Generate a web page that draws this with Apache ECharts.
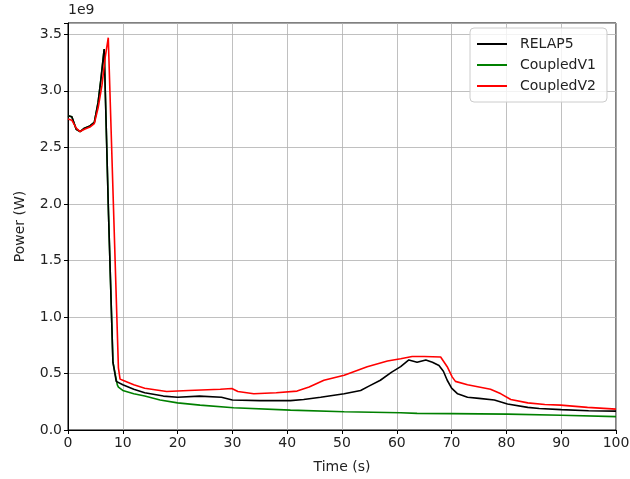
<!DOCTYPE html>
<html>
<head>
<meta charset="utf-8">
<script src="https://cdn.jsdelivr.net/npm/echarts@6/dist/echarts.min.js"></script>
<style>
  html, body { margin: 0; padding: 0; background: #fff; }
  #chart { width: 630px; height: 479px; }
</style>
</head>
<body>
<div id="chart"></div>
<script>
// power values are in units of 1e9 W
var relapTime = [0, 0.7, 1.5, 2.2, 3, 4, 4.8, 5.5, 6, 6.6, 7.4, 8.2, 8.8, 10, 12, 14, 17.4, 20, 24, 28, 30, 35, 40.6, 43, 46.1, 50.4, 53.4, 55, 57, 59, 60.7, 62.2, 63.7, 65.3, 66.5, 67.7, 68.5, 69.2, 70, 71.1, 72.9, 75, 77.8, 80.2, 83.9, 86, 90, 95, 100];
var relapPower = [2.78, 2.77, 2.66, 2.64, 2.67, 2.69, 2.72, 2.9, 3.1, 3.37, 1.9, 0.6, 0.43, 0.40, 0.36, 0.33, 0.30, 0.29, 0.30, 0.29, 0.265, 0.26, 0.26, 0.27, 0.29, 0.32, 0.35, 0.39, 0.44, 0.51, 0.56, 0.62, 0.60, 0.62, 0.60, 0.57, 0.52, 0.44, 0.37, 0.32, 0.29, 0.28, 0.265, 0.23, 0.20, 0.19, 0.18, 0.17, 0.167];

var v1Time = [0, 0.7, 1.5, 2.2, 3, 4, 4.8, 5.5, 6, 6.6, 7.4, 8.2, 9.0, 9.2, 10, 12, 14, 16.8, 20, 24.1, 30.2, 40.6, 50.4, 60.7, 63.7, 70, 80.2, 90, 100];
var v1Power = [2.78, 2.77, 2.66, 2.64, 2.67, 2.69, 2.72, 2.9, 3.1, 3.37, 1.9, 0.6, 0.40, 0.38, 0.35, 0.32, 0.30, 0.265, 0.24, 0.22, 0.197, 0.176, 0.161, 0.153, 0.147, 0.145, 0.14, 0.13, 0.118];

var v2Time = [0, 0.7, 1.5, 2.2, 3, 4, 4.8, 5.5, 6.2, 6.8, 7.35, 9.2, 9.5, 10, 12, 14, 18, 22, 27.8, 29.9, 31, 33.9, 38, 41.8, 44, 46.7, 50.4, 54.6, 58.3, 60.7, 62.8, 65, 68, 69.2, 70.1, 70.7, 72.9, 75, 77.1, 79, 80.8, 83.9, 87, 89.9, 94.8, 100];
var v2Power = [2.75, 2.74, 2.67, 2.64, 2.66, 2.68, 2.71, 2.85, 3.05, 3.3, 3.47, 0.55, 0.45, 0.44, 0.40, 0.37, 0.34, 0.35, 0.36, 0.367, 0.34, 0.32, 0.33, 0.344, 0.38, 0.44, 0.485, 0.56, 0.61, 0.63, 0.65, 0.65, 0.646, 0.56, 0.47, 0.43, 0.40, 0.38, 0.36, 0.32, 0.27, 0.24, 0.225, 0.22, 0.20, 0.185];

var yTicks = ['0.0', '0.5', '1.0', '1.5', '2.0', '2.5', '3.0', '3.5'];

function pairs(t, v) {
    var out = [];
    for (var i = 0; i < t.length; i++) out.push([t[i], v[i]]);
    return out;
}

var font = 'DejaVu Sans';
var myChart = echarts.init(document.getElementById('chart'));

var option = {
    animation: false,
    backgroundColor: '#fff',
    textStyle: { fontFamily: font },
    grid: {
        left: 68, right: 14, top: 23, bottom: 49,
        outerBoundsMode: 'none', containLabel: false,
        show: true, borderColor: '#000', borderWidth: 1
    },
    graphic: [{
        type: 'text', left: 68, top: 3,
        style: { text: '1e9', font: '14px "DejaVu Sans"', fill: '#222' }
    }],
    legend: {
        orient: 'vertical',
        left: 470, top: 28,
        padding: [9, 11, 9, 7],
        itemGap: 7,
        itemWidth: 30, itemHeight: 2,
        icon: 'rect',
        borderColor: '#ccc', borderWidth: 1, borderRadius: 4,
        backgroundColor: 'rgba(255,255,255,0.8)',
        textStyle: { fontFamily: font, fontSize: 14, color: '#222', padding: [0, 0, 0, 8] },
        data: ['RELAP5', 'CoupledV1', 'CoupledV2']
    },
    xAxis: {
        type: 'value', min: 0, max: 100, interval: 10,
        name: 'Time (s)', nameLocation: 'middle', nameGap: 30,
        nameTextStyle: { fontFamily: font, fontSize: 14, color: '#222' },
        axisLine: { lineStyle: { color: '#000' } },
        axisTick: { show: true, length: 4, lineStyle: { color: '#000' } },
        axisLabel: { fontFamily: font, fontSize: 14, color: '#222', margin: 6 },
        splitLine: { show: true, lineStyle: { color: '#b0b0b0', width: 0.8 } }
    },
    yAxis: {
        type: 'value', min: 0, max: 3.6, interval: 0.5,
        name: 'Power (W)', nameLocation: 'middle', nameGap: 41,
        nameTextStyle: { fontFamily: font, fontSize: 14, color: '#222' },
        axisLine: { show: true, lineStyle: { color: '#000' } },
        axisTick: { show: true, length: 4, lineStyle: { color: '#000' } },
        axisLabel: {
            fontFamily: font, fontSize: 14, color: '#222', margin: 6,
            formatter: function (v) {
                var i = Math.round(v / 0.5);
                return Math.abs(v - i * 0.5) < 1e-6 && yTicks[i] ? yTicks[i] : '';
            }
        },
        splitLine: { show: true, lineStyle: { color: '#b0b0b0', width: 0.8 } }
    },
    series: [
        {
            name: 'RELAP5', type: 'line', symbol: 'none', z: 3,
            lineStyle: { color: '#000', width: 1.6 }, itemStyle: { color: '#000' },
            data: pairs(relapTime, relapPower)
        },
        {
            name: 'CoupledV1', type: 'line', symbol: 'none', z: 2,
            lineStyle: { color: '#008000', width: 1.6 }, itemStyle: { color: '#008000' },
            data: pairs(v1Time, v1Power)
        },
        {
            name: 'CoupledV2', type: 'line', symbol: 'none', z: 4,
            lineStyle: { color: '#ff0000', width: 1.6 }, itemStyle: { color: '#ff0000' },
            data: pairs(v2Time, v2Power)
        }
    ]
};
myChart.setOption(option);
</script>
</body>
</html>
